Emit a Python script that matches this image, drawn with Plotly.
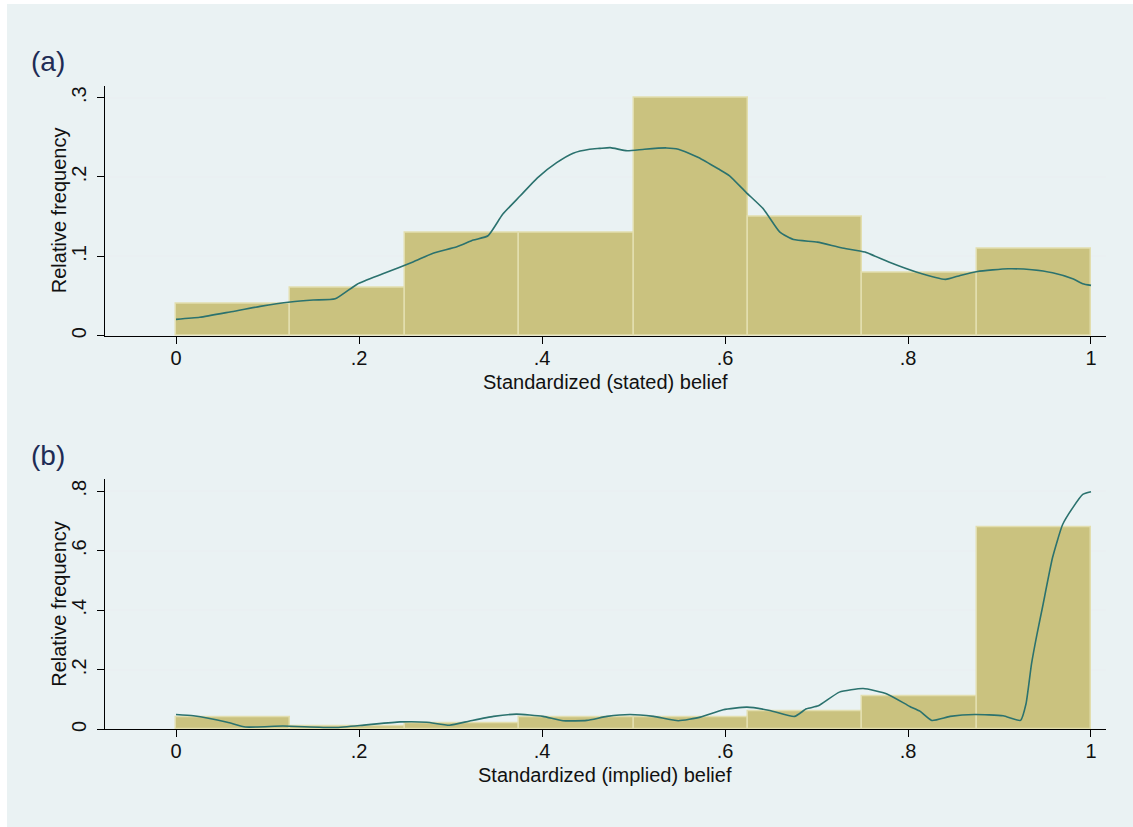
import plotly.graph_objects as go

# ---------------- data ----------------
bin_starts = [0.0, 0.125, 0.25, 0.375, 0.5, 0.625, 0.75, 0.875]
bin_width = 0.125

freq_stated = [0.04, 0.06, 0.13, 0.13, 0.30, 0.15, 0.08, 0.11]
freq_implied = [0.04, 0.01, 0.02, 0.04, 0.04, 0.06, 0.11, 0.68]

curve_a_x = [0, 0.026, 0.059, 0.092, 0.125, 0.150, 0.174, 0.198, 0.226, 0.259, 0.281,
             0.307, 0.325, 0.341, 0.357, 0.376, 0.395, 0.416, 0.434, 0.452, 0.463,
             0.4745, 0.493, 0.512, 0.536, 0.549, 0.571, 0.593, 0.605, 0.623, 0.642,
             0.660, 0.675, 0.701, 0.727, 0.753, 0.779, 0.809, 0.841, 0.857, 0.876,
             0.9095, 0.9355, 0.958, 0.980, 0.991, 1.0]
curve_a_y = [0.0207, 0.0233, 0.030, 0.037, 0.0425, 0.045, 0.0465, 0.065, 0.078, 0.093, 0.104,
             0.112, 0.1205, 0.126, 0.153, 0.176, 0.199, 0.218, 0.230, 0.235, 0.236,
             0.237, 0.233, 0.235, 0.2366, 0.235, 0.2246, 0.21, 0.2015, 0.1807, 0.1597,
             0.1305, 0.1212, 0.118, 0.1108, 0.1054, 0.0928, 0.0803, 0.071, 0.076, 0.081,
             0.0844, 0.0832, 0.0794, 0.0719, 0.0656, 0.0635]

curve_b_x = [0, 0.019, 0.056, 0.076, 0.117, 0.174, 0.208, 0.245, 0.274, 0.299,
             0.321, 0.347, 0.372, 0.401, 0.423, 0.449, 0.471, 0.496, 0.522, 0.549,
             0.573, 0.598, 0.624, 0.649, 0.676, 0.689, 0.702, 0.725, 0.751, 0.777,
             0.802, 0.813, 0.826, 0.846, 0.873, 0.904, 0.923, 0.929, 0.935, 0.941,
             0.947, 0.958, 0.969, 0.980, 0.991, 1.0]
curve_b_y = [0.050, 0.0455, 0.024, 0.008, 0.011, 0.006, 0.015, 0.025, 0.024, 0.014,
             0.028, 0.0435, 0.051, 0.0435, 0.029, 0.030, 0.0435, 0.050, 0.0435, 0.029,
             0.041, 0.066, 0.0745, 0.0635, 0.0435, 0.069, 0.079, 0.125, 0.137, 0.119,
             0.077, 0.061, 0.030, 0.0435, 0.050, 0.0455, 0.030, 0.086, 0.22, 0.32,
             0.41, 0.577, 0.688, 0.744, 0.789, 0.798]

x_ticks = [0, 0.2, 0.4, 0.6, 0.8, 1]
x_ticklabels = ["0", ".2", ".4", ".6", ".8", "1"]
ya_ticks = [0, 0.1, 0.2, 0.3]
ya_ticklabels = ["0", ".1", ".2", ".3"]
yb_ticks = [0, 0.2, 0.4, 0.6, 0.8]
yb_ticklabels = ["0", ".2", ".4", ".6", ".8"]

panel_titles = ["(a)", "(b)"]
x_titles = ["Standardized (stated) belief", "Standardized (implied) belief"]
y_title = "Relative frequency"

# ---------------- style ----------------
W, H = 1133, 827
BG = "#EAF2F3"
BAR = "#CAC27F"
BAR_EDGE = "#E2DEAE"
LINE = "#2B726E"
GRID = "#EAF0F2"
TITLE_C = "#1E2C55"
FONT = "Liberation Sans, Arial, sans-serif"

centers = [b + bin_width / 2 for b in bin_starts]

fig = go.Figure()
fig.add_trace(go.Bar(x=centers, y=freq_stated, width=[bin_width] * len(centers),
                     marker=dict(color=BAR, line=dict(color=BAR_EDGE, width=1.5)),
                     xaxis="x", yaxis="y", showlegend=False))
fig.add_trace(go.Scatter(x=curve_a_x, y=curve_a_y, mode="lines",
                         line=dict(color=LINE, width=1.6, shape="spline", smoothing=0.5),
                         xaxis="x", yaxis="y", showlegend=False))
fig.add_trace(go.Bar(x=centers, y=freq_implied, width=[bin_width] * len(centers),
                     marker=dict(color=BAR, line=dict(color=BAR_EDGE, width=1.5)),
                     xaxis="x2", yaxis="y2", showlegend=False))
fig.add_trace(go.Scatter(x=curve_b_x, y=curve_b_y, mode="lines",
                         line=dict(color=LINE, width=1.6, shape="spline", smoothing=0.5),
                         xaxis="x2", yaxis="y2", showlegend=False))

xl, xr = 105 / W, 1106 / W
ya_dom = [1 - 337 / H, 1 - 86 / H]
yb_dom = [1 - 732 / H, 1 - 481 / H]

xcommon = dict(range=[-0.0776, 1.0164], tickvals=x_ticks, ticktext=x_ticklabels,
               showgrid=False, zeroline=False, showline=True, linecolor="#000000",
               linewidth=1.3, ticks="outside", ticklen=7, tickcolor="#000000",
               ticklabelstandoff=-3,
               tickfont=dict(size=20, color="#111111", family=FONT), domain=[xl, xr],
               fixedrange=True)
ycommon = dict(showgrid=True, gridcolor=GRID, gridwidth=1.5, zeroline=False,
               showline=True, linecolor="#000000", linewidth=1.3, ticks="outside",
               ticklen=7, tickcolor="#000000", tickangle=-90, ticklabelstandoff=3,
               tickfont=dict(size=20, color="#111111", family=FONT), fixedrange=True)

fig.update_layout(
    width=W, height=H,
    margin=dict(l=0, r=0, t=0, b=0),
    paper_bgcolor="white",
    plot_bgcolor="white",
    bargap=0,
    font=dict(family=FONT),
    xaxis=dict(**xcommon, anchor="y"),
    yaxis=dict(**ycommon, domain=ya_dom, range=[0, 0.315], tickvals=ya_ticks,
               ticktext=ya_ticklabels, anchor="x"),
    xaxis2=dict(**xcommon, anchor="y2"),
    yaxis2=dict(**ycommon, domain=yb_dom, range=[0, 0.84], tickvals=yb_ticks,
                ticktext=yb_ticklabels, anchor="x2"),
    shapes=[dict(type="rect", xref="paper", yref="paper", x0=7 / W, x1=1.01,
                 y0=-0.01, y1=1 - 4 / H, fillcolor=BG, line=dict(width=0), layer="below")],
)

ann = []
for i, (py_title, py_xt, py_yt) in enumerate([(62, 383, 211), (457, 778, 606)]):
    ann.append(dict(text=panel_titles[i], x=29 / W, y=1 - py_title / H, xref="paper",
                    yref="paper", xanchor="left", yanchor="middle", showarrow=False,
                    font=dict(size=28, color=TITLE_C, family=FONT)))
    ann.append(dict(text=x_titles[i], x=(xl + xr) / 2, y=1 - py_xt / H, xref="paper",
                    yref="paper", xanchor="center", yanchor="middle", showarrow=False,
                    font=dict(size=20, color="#111111", family=FONT)))
    ann.append(dict(text=y_title, x=59 / W, y=1 - py_yt / H, xref="paper", yref="paper",
                    xanchor="center", yanchor="middle", showarrow=False, textangle=-90,
                    font=dict(size=20, color="#111111", family=FONT)))
fig.update_layout(annotations=ann)

fig.write_html("out.html", config={"displayModeBar": False},
               post_script="document.body.style.margin='0px';document.body.style.overflow='hidden';")
